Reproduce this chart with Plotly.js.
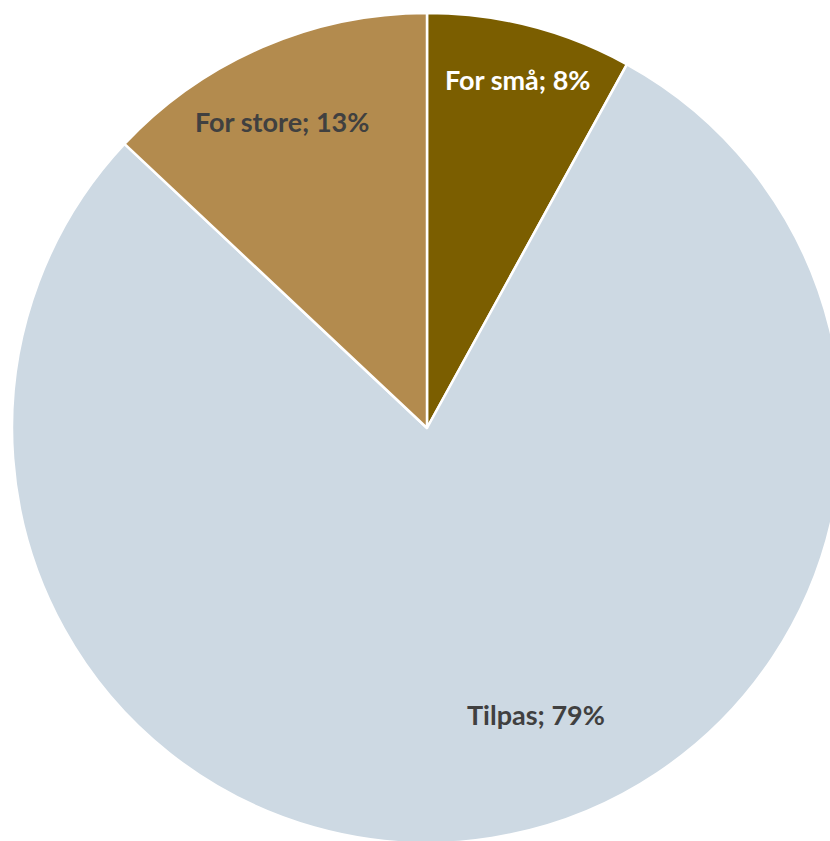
<!DOCTYPE html>
<html>
<head>
<meta charset="utf-8">
<script src="https://cdn.plot.ly/plotly-3.0.1.min.js"></script>
<style>
html,body{margin:0;padding:0;overflow:hidden;background:#fff;}
#chart{width:850px;height:860px;}
</style>
</head>
<body>
<div id="chart"></div>
<script>
const categories = ["For små", "Tilpas", "For store"];
const values = [8, 79, 13];
const colors = ["#7B5E00", "#CDD9E3", "#B38B4E"];
const labelColors = ["#FFFFFF", "#404040", "#404040"];
// label anchor points (pixels in the 850x860 layout)
const labelPos = [[517, 79], [536, 714], [282, 122]];

const W = 850, H = 860;
const annotations = categories.map((c, i) => ({
  x: labelPos[i][0] / W,
  y: 1 - labelPos[i][1] / H,
  xref: "paper", yref: "paper",
  text: "<b>" + c + "; " + values[i] + "%</b>",
  showarrow: false,
  xanchor: "center", yanchor: "middle",
  font: {family: "Lato, 'Open Sans', sans-serif", size: 27, color: labelColors[i]}
}));

const trace = {
  type: "pie",
  labels: categories,
  values: values,
  sort: false,
  direction: "clockwise",
  rotation: 0,
  textinfo: "none",
  hoverinfo: "label+percent",
  marker: {colors: colors, line: {color: "#FFFFFF", width: 2.5}},
  domain: {x: [12 / W, 842 / W], y: [(H - 843) / H, (H - 13) / H]},
  showlegend: false
};

Plotly.newPlot("chart", [trace], {
  width: W, height: H,
  margin: {l: 0, r: 0, t: 0, b: 0},
  paper_bgcolor: "#FFFFFF",
  showlegend: false,
  annotations: annotations
}, {displayModeBar: false, staticPlot: true});
</script>
</body>
</html>
